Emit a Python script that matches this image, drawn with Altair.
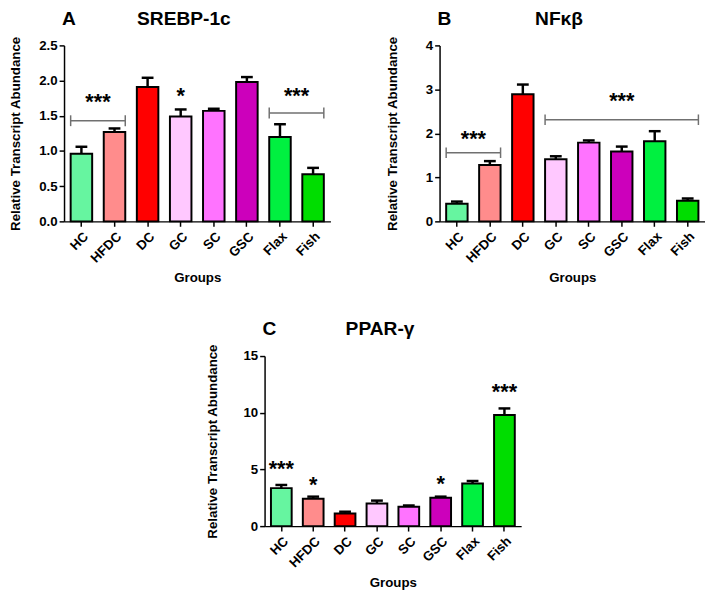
import altair as alt
import pandas as pd

FONT = "Liberation Sans"

groups = ["HC", "HFDC", "DC", "GC", "SC", "GSC", "Flax", "Fish"]
colors = ["#66F5A0", "#FF8C8C", "#FF0000", "#FFC8FF", "#FF73FF", "#CC00BB", "#00F040", "#00DD00"]

srebp_mean = [0.96, 1.27, 1.91, 1.49, 1.57, 1.98, 1.20, 0.67]
srebp_top = [1.06, 1.32, 2.04, 1.59, 1.60, 2.05, 1.38, 0.76]
nfkb_mean = [0.40, 1.28, 2.89, 1.41, 1.79, 1.59, 1.82, 0.47]
nfkb_top = [0.45, 1.37, 3.11, 1.48, 1.84, 1.70, 2.05, 0.52]
ppar_mean = [3.35, 2.42, 1.12, 1.99, 1.70, 2.51, 3.75, 9.81]
ppar_top = [3.63, 2.60, 1.27, 2.25, 1.82, 2.60, 3.98, 10.38]

# significance annotations
srebp_brackets = [("HC", "HFDC", 1.43), ("Flax", "Fish", 1.54)]
srebp_between = [("HC", "***", 1.74), ("Flax", "***", 1.82)]
srebp_centered = [("GC", "*", 1.82)]
nfkb_brackets = [("HC", "HFDC", 1.56), ("GC", "Fish", 2.31)]
nfkb_between = [("HC", "***", 1.94)]
nfkb_centered = [("GSC", "***", 2.79)]
ppar_brackets = []
ppar_between = []
ppar_centered = [("HC", "***", 5.28), ("HFDC", "*", 3.84), ("GSC", "*", 3.98), ("Fish", "***", 12.1)]

YTITLE = "Relative  Transcript Abundance"


def panel(letter, name, mean, top, ymax, ticks, fmt, w, h, brackets, between, centered,
          half, ytpad):
    xs = alt.Scale(domain=groups, paddingInner=0.35, paddingOuter=0.2)
    ys = alt.Scale(domain=[0, ymax], nice=False, zero=True)
    df = pd.DataFrame({"group": groups, "mean": mean, "top": top})
    xaxis = alt.Axis(labelAngle=-45, titlePadding=6, labelPadding=3, labelOverlap=False)
    yaxis = alt.Axis(values=ticks, format=fmt, titlePadding=ytpad, labelOverlap=False)

    def X(field, **kw):
        return alt.X(field, sort=groups, scale=xs, title="Groups", axis=xaxis, **kw)

    def Y(field, **kw):
        return alt.Y(field, scale=ys, title=YTITLE, axis=yaxis, **kw)

    base = alt.Chart(df)
    bars = base.mark_bar(stroke="black", strokeWidth=2).encode(
        x=X("group:N"),
        y=Y("mean:Q"),
        color=alt.Color("group:N", scale=alt.Scale(domain=groups, range=colors), legend=None),
    )
    err = base.mark_rule(color="black", strokeWidth=2.5).encode(
        x=X("group:N"), y=Y("mean:Q"), y2="top:Q")
    cap = base.mark_tick(color="black", thickness=2.5, size=12, opacity=1).encode(
        x=X("group:N"), y=Y("top:Q"))
    layers = [bars, err, cap]

    if brackets:
        bdf = pd.DataFrame(brackets, columns=["start", "end", "y"])
        bc = alt.Chart(bdf)
        line = bc.mark_rule(color="#707070", strokeWidth=1.5).encode(
            x=X("start:N", bandPosition=0), x2=alt.X2("end:N", bandPosition=1), y=Y("y:Q"))
        e1 = bc.transform_calculate(lo=f"datum.y-{half}", hi=f"datum.y+{half}").mark_rule(
            color="#707070", strokeWidth=1.5).encode(
            x=X("start:N", bandPosition=0), y=Y("lo:Q"), y2="hi:Q")
        e2 = bc.transform_calculate(lo=f"datum.y-{half}", hi=f"datum.y+{half}").mark_rule(
            color="#707070", strokeWidth=1.5).encode(
            x=X("end:N", bandPosition=1), y=Y("lo:Q"), y2="hi:Q")
        layers += [line, e1, e2]

    step = w / (len(groups) - 0.35 + 0.4)
    if between:
        sdf = pd.DataFrame(between, columns=["group", "label", "y"])
        layers.append(alt.Chart(sdf).mark_text(font=FONT, fontSize=22, fontWeight="bold",
                                               baseline="middle", dx=step / 2, dy=3).encode(
            x=X("group:N"), y=Y("y:Q"), text="label:N"))
    if centered:
        sdf = pd.DataFrame(centered, columns=["group", "label", "y"])
        layers.append(alt.Chart(sdf).mark_text(font=FONT, fontSize=22, fontWeight="bold",
                                               baseline="middle", dy=3).encode(
            x=X("group:N"), y=Y("y:Q"), text="label:N"))

    one = pd.DataFrame({"k": [0]})
    layers.append(alt.Chart(one).mark_text(font=FONT, fontSize=19.5, fontWeight="bold",
                                           baseline="middle", align="center").encode(
        x=alt.value(5), y=alt.value(-27), text=alt.value(letter)))
    layers.append(alt.Chart(one).mark_text(font=FONT, fontSize=19.5, fontWeight="bold",
                                           baseline="middle", align="center").encode(
        x=alt.value(w * 0.45), y=alt.value(-27), text=alt.value(name)))
    return alt.layer(*layers).properties(width=w, height=h)


A = panel("A", "SREBP-1c", srebp_mean, srebp_top, 2.5, [0, 0.5, 1, 1.5, 2, 2.5], ".1f",
          271, 179, srebp_brackets, srebp_between, srebp_centered, 0.077, 17)
B = panel("B", "NFκβ", nfkb_mean, nfkb_top, 4, [0, 1, 2, 3, 4], "d",
          270, 179, nfkb_brackets, nfkb_between, nfkb_centered, 0.12, 26)
C = panel("C", "PPAR-γ", ppar_mean, ppar_top, 15, [0, 5, 10, 15], "d",
          261, 173, ppar_brackets, ppar_between, ppar_centered, 0.4, 24)

spacer = alt.Chart(pd.DataFrame({"k": [0]})).mark_point(opacity=0).encode(
    x=alt.value(0), y=alt.value(0)).properties(width=123, height=1)

chart = alt.vconcat(
    alt.hconcat(A, B, spacing=56),
    alt.hconcat(spacer, C, spacing=20),
    spacing=36,
).properties(padding={"top": -4, "left": 0, "right": 0, "bottom": 0}).configure_axis(
    labelFont=FONT, titleFont=FONT, labelFontWeight="bold", titleFontWeight="bold",
    labelFontSize=13.5, titleFontSize=13.5, labelColor="black", titleColor="black",
    domainColor="black", tickColor="black", domainWidth=1.5, tickWidth=1.5, tickSize=5,
    grid=False,
).configure_view(stroke=None)

chart.save("out.html", embed_options={"renderer": "svg", "actions": False})
